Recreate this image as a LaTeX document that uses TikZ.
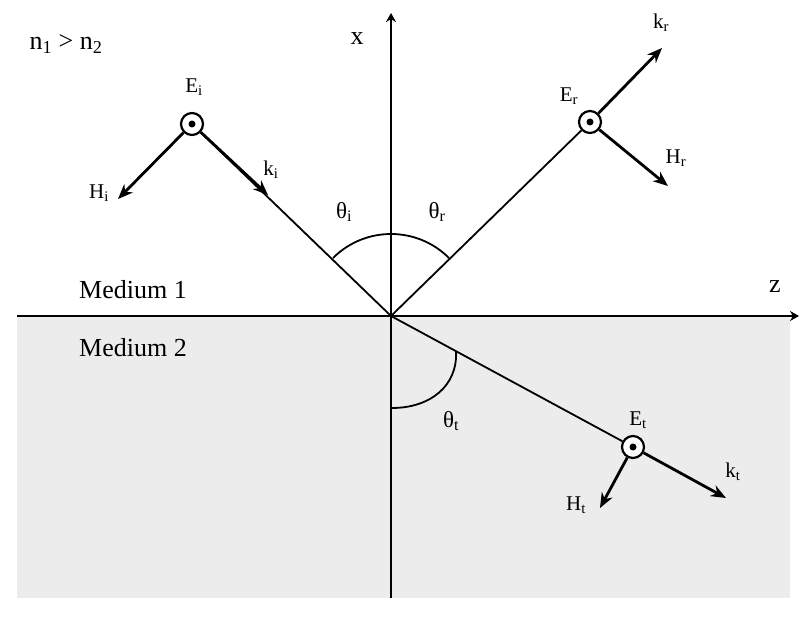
\documentclass[tikz,border=0pt]{standalone}
\usepackage{fontspec}
\setmainfont{Liberation Serif}
\usetikzlibrary{arrows.meta}
\begin{document}
\begin{tikzpicture}[x=1pt,y=-1pt,
  ray/.style={line width=1.8pt},
  vec/.style={line width=2.8pt,-{Stealth[length=15pt,width=12pt]}},
  axis/.style={line width=1.8pt,-{Stealth[length=9pt,width=10pt]}},
  field/.style={circle,draw,line width=2.2pt,minimum size=22pt,inner sep=0pt,fill=white},
  dot/.style={fill=black},
  big/.style={font=\fontsize{26}{30}\selectfont,inner sep=0pt},
  lbl/.style={font=\fontsize{21}{25}\selectfont,inner sep=0pt},
  ang/.style={font=\fontsize{23}{27}\selectfont,inner sep=0pt},
  arcline/.style={line width=1.8pt}]
\useasboundingbox (0,0) rectangle (800,628);
% medium 2 shading
\fill[gray!15] (17,317) rectangle (790,598);
% axes
\coordinate (O) at (391,316);
\coordinate (zs) at (17,316);
\coordinate (ze) at (799,316);
\coordinate (xs) at (391,598);
\coordinate (xe) at (391,13);
\draw[axis] (zs) -- (ze);
\draw[axis] (xs) -- (xe);
% angle arcs
\draw[arcline] (O) ++(225:82) arc[start angle=225,end angle=315,radius=82];
\draw[arcline] (456,351) .. controls (458,386) and (430,408) .. (392,408);
% field points
\node[field] (Ei) at (192,124) {};
\node[field] (Er) at (590,122) {};
\node[field] (Et) at (633,447) {};
\fill[dot] (Ei.center) circle (3.5pt);
\fill[dot] (Er.center) circle (3.5pt);
\fill[dot] (Et.center) circle (3.5pt);
% arrow tips
\coordinate (kiT) at (268,195);
\coordinate (HiT) at (118,199);
\coordinate (krT) at (662,48);
\coordinate (HrT) at (668,186);
\coordinate (ktT) at (726,498);
\coordinate (HtT) at (600,508);
% rays
\draw[ray] (Ei) -- (O);
\draw[ray] (O) -- (Er);
\draw[ray] (O) -- (Et);
% vectors
\draw[vec] (Ei) -- (kiT);
\draw[vec] (Ei) -- (HiT);
\draw[vec] (Er) -- (krT);
\draw[vec] (Er) -- (HrT);
\draw[vec] (Et) -- (ktT);
\draw[vec] (Et) -- (HtT);
% labels
\node[big] (n12) at (66,44) {n\textsubscript{1} > n\textsubscript{2}};
\node[big] (xl) at (357,39) {x};
\node[big] (zl) at (775,287) {z};
\node[big] (m1) at (133,290) {Medium 1};
\node[big] (m2) at (133,348) {Medium 2};
\node[lbl] (Eil) at (194,87) {E\textsubscript{i}};
\node[lbl] (Hil) at (99,193) {H\textsubscript{i}};
\node[lbl] (kil) at (271,170) {k\textsubscript{i}};
\node[lbl] (Erl) at (569,96) {E\textsubscript{r}};
\node[lbl] (krl) at (661,23) {k\textsubscript{r}};
\node[lbl] (Hrl) at (676,158) {H\textsubscript{r}};
\node[lbl] (Etl) at (638,420) {E\textsubscript{t}};
\node[lbl] (ktl) at (733,472) {k\textsubscript{t}};
\node[lbl] (Htl) at (576,505) {H\textsubscript{t}};
\node[ang] (thi) at (344,212) {θ\textsubscript{i}};
\node[ang] (thr) at (437,212) {θ\textsubscript{r}};
\node[ang] (tht) at (451,421) {θ\textsubscript{t}};
\end{tikzpicture}
\end{document}
